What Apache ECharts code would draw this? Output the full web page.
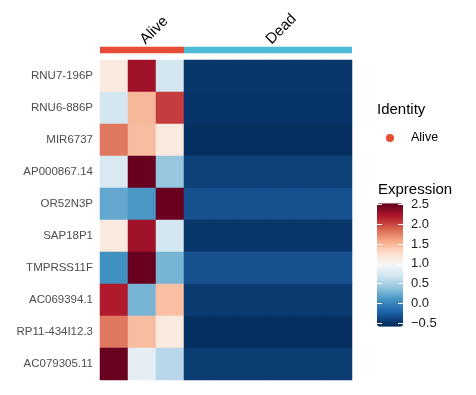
<!DOCTYPE html>
<html><head><meta charset="utf-8">
<script src="https://cdn.jsdelivr.net/npm/echarts@6/dist/echarts.min.js"></script>
<style>html,body{margin:0;padding:0;background:#fff}#c{width:476px;height:395px}</style>
</head><body><div id="c"></div>
<script>
// ---- data ----
const genes = ['RNU7-196P','RNU6-886P','MIR6737','AP000867.14','OR52N3P','SAP18P1','TMPRSS11F','AC069394.1','RP11-434I12.3','AC079305.11'];
const samples = ['A1','A2','A3','D1','D2','D3','D4','D5','D6'];
const groupNames = ['Alive','Dead'];
const groupSizes = [3, 6];
const groupColors = ['#E64B35','#4DBBD5'];
const legendTicks = [-0.5, 0, 0.5, 1.0, 1.5, 2.0, 2.5];
// expression per gene, one value per sample (3 Alive + 6 Dead)
const RNU7_196P    = [1.15, 2.28, 0.72, -0.46,-0.46,-0.46,-0.46,-0.46,-0.46];
const RNU6_886P    = [0.72, 1.50, 2.05, -0.47,-0.47,-0.47,-0.47,-0.47,-0.47];
const MIR6737      = [1.80, 1.47, 1.15, -0.53,-0.53,-0.53,-0.53,-0.53,-0.53];
const AP000867_14  = [0.76, 2.52, 0.42, -0.41,-0.41,-0.41,-0.41,-0.41,-0.41];
const OR52N3P      = [0.22, 0.12, 2.52, -0.32,-0.32,-0.32,-0.32,-0.32,-0.32];
const SAP18P1      = [1.15, 2.28, 0.72, -0.46,-0.46,-0.46,-0.46,-0.46,-0.46];
const TMPRSS11F    = [0.09, 2.52, 0.30, -0.32,-0.32,-0.32,-0.32,-0.32,-0.32];
const AC069394_1   = [2.20, 0.30, 1.45, -0.44,-0.44,-0.44,-0.44,-0.44,-0.44];
const RP11_434I12_3= [1.80, 1.47, 1.15, -0.56,-0.56,-0.56,-0.56,-0.56,-0.56];
const AC079305_11  = [2.52, 0.85, 0.58, -0.43,-0.43,-0.43,-0.43,-0.43,-0.43];
const matrix = [RNU7_196P,RNU6_886P,MIR6737,AP000867_14,OR52N3P,SAP18P1,TMPRSS11F,AC069394_1,RP11_434I12_3,AC079305_11];
const VMIN = -0.58, VMAX = 2.53;

// ---- RdBu colour scale centred at 1.0 ----
const rdbu = ['#053061','#2166ac','#4393c3','#92c5de','#d1e5f0','#f7f7f7','#fddbc7','#f4a582','#d6604d','#b2182b','#67001f'];
function hex2rgb(h){return [parseInt(h.slice(1,3),16),parseInt(h.slice(3,5),16),parseInt(h.slice(5,7),16)];}
function colorAt(v){
  let t = (v - (-0.5)) / 3.0 * (rdbu.length-1);
  t = Math.max(0, Math.min(rdbu.length-1, t));
  const i = Math.min(rdbu.length-2, Math.floor(t)), f = t - i;
  const a = hex2rgb(rdbu[i]), b = hex2rgb(rdbu[i+1]);
  return 'rgb('+a.map((x,k)=>Math.round(x+(b[k]-x)*f)).join(',')+')';
}
const ramp = [];
for (let k=0;k<=60;k++) ramp.push(colorAt(VMIN + (VMAX-VMIN)*k/60));

const heatData = [];
matrix.forEach((row,r)=>row.forEach((v,c)=>heatData.push([c,r,v])));

// annotation segments [start, end]
const segs = [];
let acc = 0;
groupSizes.forEach((n,i)=>{segs.push([acc, acc+n]); acc += n;});

const FONT = '"Liberation Sans", Arial, sans-serif';
function annoRender(name){
  return function(params, api){
    const s = api.value(0), e = api.value(1);
    const p0 = api.coord([s, 1]), p1 = api.coord([e, 0]);
    const mid = (p0[0]+p1[0])/2;
    return {type:'group', children:[
      {type:'rect', shape:{x:p0[0], y:p0[1], width:p1[0]-p0[0], height:p1[1]-p0[1]},
        style:{fill:api.visual('color')}},
      {type:'text', x:mid+6, y:p0[1]+0.5, rotation:Math.PI/4,
        style:{text:name, fontSize:15, fontFamily:FONT, fill:'#000', align:'left', verticalAlign:'bottom'}}
    ]};
  };
}

const chart = echarts.init(document.getElementById('c'), null, {renderer:'canvas'});
chart.setOption({
  animation:false,
  textStyle:{fontFamily:FONT},
  title:[
    {text:'Identity', left:377, top:102.5, padding:0, textStyle:{fontSize:15, fontWeight:'normal', color:'#000', fontFamily:FONT}},
    {text:'Expression', left:378, top:182, padding:0, textStyle:{fontSize:15, fontWeight:'normal', color:'#000', fontFamily:FONT}}
  ],
  legend:{data:['Alive'], left:386, top:131.5, padding:0, icon:'circle', itemWidth:8, itemHeight:8,
    textStyle:{fontSize:12.5, color:'#000', fontFamily:FONT, padding:[0,0,0,12]}, selectedMode:false},
  grid:[
    {left:100, width:252, top:60, height:320},
    {left:377, width:26, top:204.3, height:119},
    {left:100, width:252, top:46.7, height:6.6}
  ],
  xAxis:[
    {type:'category', data:samples, gridIndex:0, show:false},
    {type:'value', gridIndex:1, show:false, min:0, max:1},
    {type:'value', gridIndex:2, show:false, min:0, max:9}
  ],
  yAxis:[
    {type:'category', data:genes, gridIndex:0, inverse:true,
      axisLine:{show:false}, axisTick:{show:false}, splitLine:{show:false},
      axisLabel:{fontSize:11.5, color:'#4d4d4d', margin:7, fontFamily:FONT}},
    {type:'value', gridIndex:1, position:'left', min:-0.5, max:2.5, interval:0.5, z:10,
      axisLine:{show:false}, splitLine:{show:false}, axisLabel:{show:false},
      axisTick:{show:true, inside:true, length:5, lineStyle:{color:'#ffffff', width:1}}},
    {type:'value', gridIndex:1, position:'right', min:-0.5, max:2.5, interval:0.5, z:10,
      axisLine:{show:false}, splitLine:{show:false},
      axisTick:{show:true, inside:true, length:5, lineStyle:{color:'#ffffff', width:1}},
      axisLabel:{show:true, margin:8, fontSize:13, color:'#1a1a1a', fontFamily:FONT,
        formatter:v=>(v<0?'\u2212':'')+Math.abs(v).toFixed(1)}},
    {type:'value', gridIndex:2, show:false, min:0, max:1}
  ],
  visualMap:{type:'continuous', seriesIndex:0, min:VMIN, max:VMAX, calculable:false, orient:'vertical',
    left:377, top:203.3, itemWidth:26, itemHeight:123.4, padding:0, text:null, showLabel:false, hoverLink:false,
    inRange:{color:ramp}},
  series:[
    {type:'heatmap', xAxisIndex:0, yAxisIndex:0, data:heatData, itemStyle:{borderWidth:0}},
    {type:'custom', name:groupNames[0], xAxisIndex:2, yAxisIndex:3, data:[segs[0]],
      itemStyle:{color:groupColors[0]}, renderItem:annoRender(groupNames[0])},
    {type:'custom', name:groupNames[1], xAxisIndex:2, yAxisIndex:3, data:[segs[1]],
      itemStyle:{color:groupColors[1]}, renderItem:annoRender(groupNames[1])}
  ]
});
</script></body></html>
